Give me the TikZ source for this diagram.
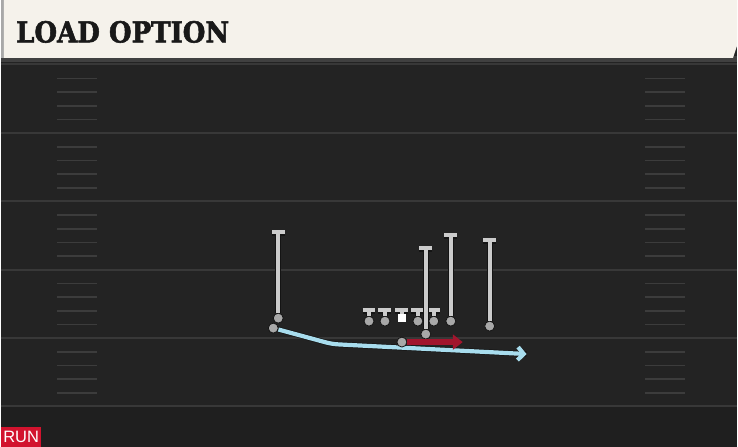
\documentclass[tikz,border=0pt]{standalone}
\usepackage{fontspec}
\usepackage{graphicx}
\usetikzlibrary{arrows.meta, positioning}

\newfontfamily\titlefont[FakeBold=2]{DejaVu Serif}
\newfontfamily\tagfont{Liberation Sans}

\definecolor{fieldbg}{HTML}{232323}
\definecolor{endbg}{HTML}{1F1F1F}
\definecolor{yardgray}{HTML}{383838}
\definecolor{hashgray}{HTML}{3C3C3C}
\definecolor{headbg}{HTML}{F5F2EB}
\definecolor{headedge}{HTML}{A8A8A8}
\definecolor{routegray}{HTML}{CBCBCB}
\definecolor{dotgray}{HTML}{A8A8A8}
\definecolor{outline}{HTML}{141414}
\definecolor{motionblue}{HTML}{A8DDEE}
\definecolor{runred}{HTML}{A1152D}
\definecolor{tagred}{HTML}{D2132E}

\begin{document}
\begin{tikzpicture}[
    x=1pt, y=-1pt,
    yardline/.style={
        draw=yardgray,
        line width=2pt,
    },
    hashmark/.style={
        draw=hashgray,
        line width=1.6pt,
    },
    player/.style={
        circle,
        draw=outline,
        line width=0.8pt,
        fill=dotgray,
        minimum size=10pt,
        inner sep=0pt,
    },
    snapper/.style={
        rectangle,
        fill=white,
        minimum size=8.5pt,
        inner sep=0pt,
    },
    block/.style={
        draw=routegray,
        line width=4pt,
        -{Bar[width=13pt]},
        preaction={draw=outline, line width=6pt},
    },
    motion/.style={
        draw=motionblue,
        line width=4.2pt,
        rounded corners=6pt,
        -{Straight Barb[length=6pt, width=13pt]},
        preaction={draw=outline, line width=5.6pt, -},
    },
    handoff/.style={
        draw=runred,
        line width=5.5pt,
        -{Triangle[length=10pt, width=15pt]},
    },
    titletext/.style={
        font=\titlefont\bfseries\fontsize{29}{29}\selectfont,
        text=black!90,
        anchor=west,
        inner sep=0pt,
    },
    tagbox/.style={
        fill=tagred,
        text=white,
        font=\tagfont\fontsize{16.5}{16.5}\selectfont,
        minimum width=40pt,
        minimum height=20pt,
        inner sep=0pt,
        anchor=south west,
    }
]
    % Field
    \fill[fieldbg] (0,0) rectangle (738,448);
    \fill[endbg] (0,408) rectangle (738,448);
    \draw[yardline] (0,64) -- (738,64);
    \draw[yardline] (0,133.5) -- (738,133.5);
    \draw[yardline] (0,202) -- (738,202);
    \draw[yardline] (0,270.5) -- (738,270.5);
    \draw[yardline] (0,339) -- (738,339);
    \draw[yardline] (0,407.5) -- (738,407.5);
    \foreach \k in {1,2,3,4,6,7,8,9,11,12,13,14,16,17,18,19,21,22,23,24} {
        \draw[hashmark] (56,65+13.7*\k) -- (96,65+13.7*\k);
        \draw[hashmark] (646,65+13.7*\k) -- (686,65+13.7*\k);
    }

    % Header
    \fill[black!75] (0,56) rectangle (738,62);
    \fill[headedge] (0,0) rectangle (3,58);
    \fill[headbg] (3,0) -- (738,0) -- (738,46) -- (734,58) -- (3,58) -- cycle;
    \node[titletext] (title) at (15,32) {\scalebox{0.9}[1]{LOAD OPTION}};

    % Receivers
    \node[player] (wrA) at (278,319) {};
    \coordinate (wrAtop) at (278,231);
    \draw[block] (wrA) -- (wrAtop);
    \node[player] (wrB) at (451,322) {};
    \coordinate (wrBtop) at (451,234);
    \draw[block] (wrB) -- (wrBtop);
    \node[player] (wrC) at (490,327) {};
    \coordinate (wrCtop) at (490,239);
    \draw[block] (wrC) -- (wrCtop);

    % Line
    \node[player] (lt) at (369,322) {};
    \coordinate (lttop) at (369,309);
    \draw[block] (lt) -- (lttop);
    \node[player] (lg) at (385,322) {};
    \coordinate (lgtop) at (385,309);
    \draw[block] (lg) -- (lgtop);
    \node[snapper] (ctr) at (402,319) {};
    \coordinate (ctrtop) at (402,309);
    \draw[block] (ctr) -- (ctrtop);
    \node[player] (rg) at (418,322) {};
    \coordinate (rgtop) at (418,309);
    \draw[block] (rg) -- (rgtop);
    \node[player] (rt) at (434,322) {};
    \coordinate (rttop) at (434,309);
    \draw[block] (rt) -- (rttop);

    % Slot
    \node[player] (slot) at (426,335) {};
    \coordinate (slottop) at (426,247);
    \draw[block] (slot) -- (slottop);

    % Motion and run
    \node[player] (mover) at (273,329) {};
    \coordinate (moveturn) at (332,345);
    \coordinate (moveend) at (527,355);
    \draw[motion] (mover) -- (moveturn) -- (moveend);
    \node[player] (back) at (402,343) {};
    \coordinate (backend) at (463,343);
    \draw[handoff] (back) -- (backend);

    % Tag
    \node[tagbox] (tag) at (0,448) {RUN};
\end{tikzpicture}
\end{document}
